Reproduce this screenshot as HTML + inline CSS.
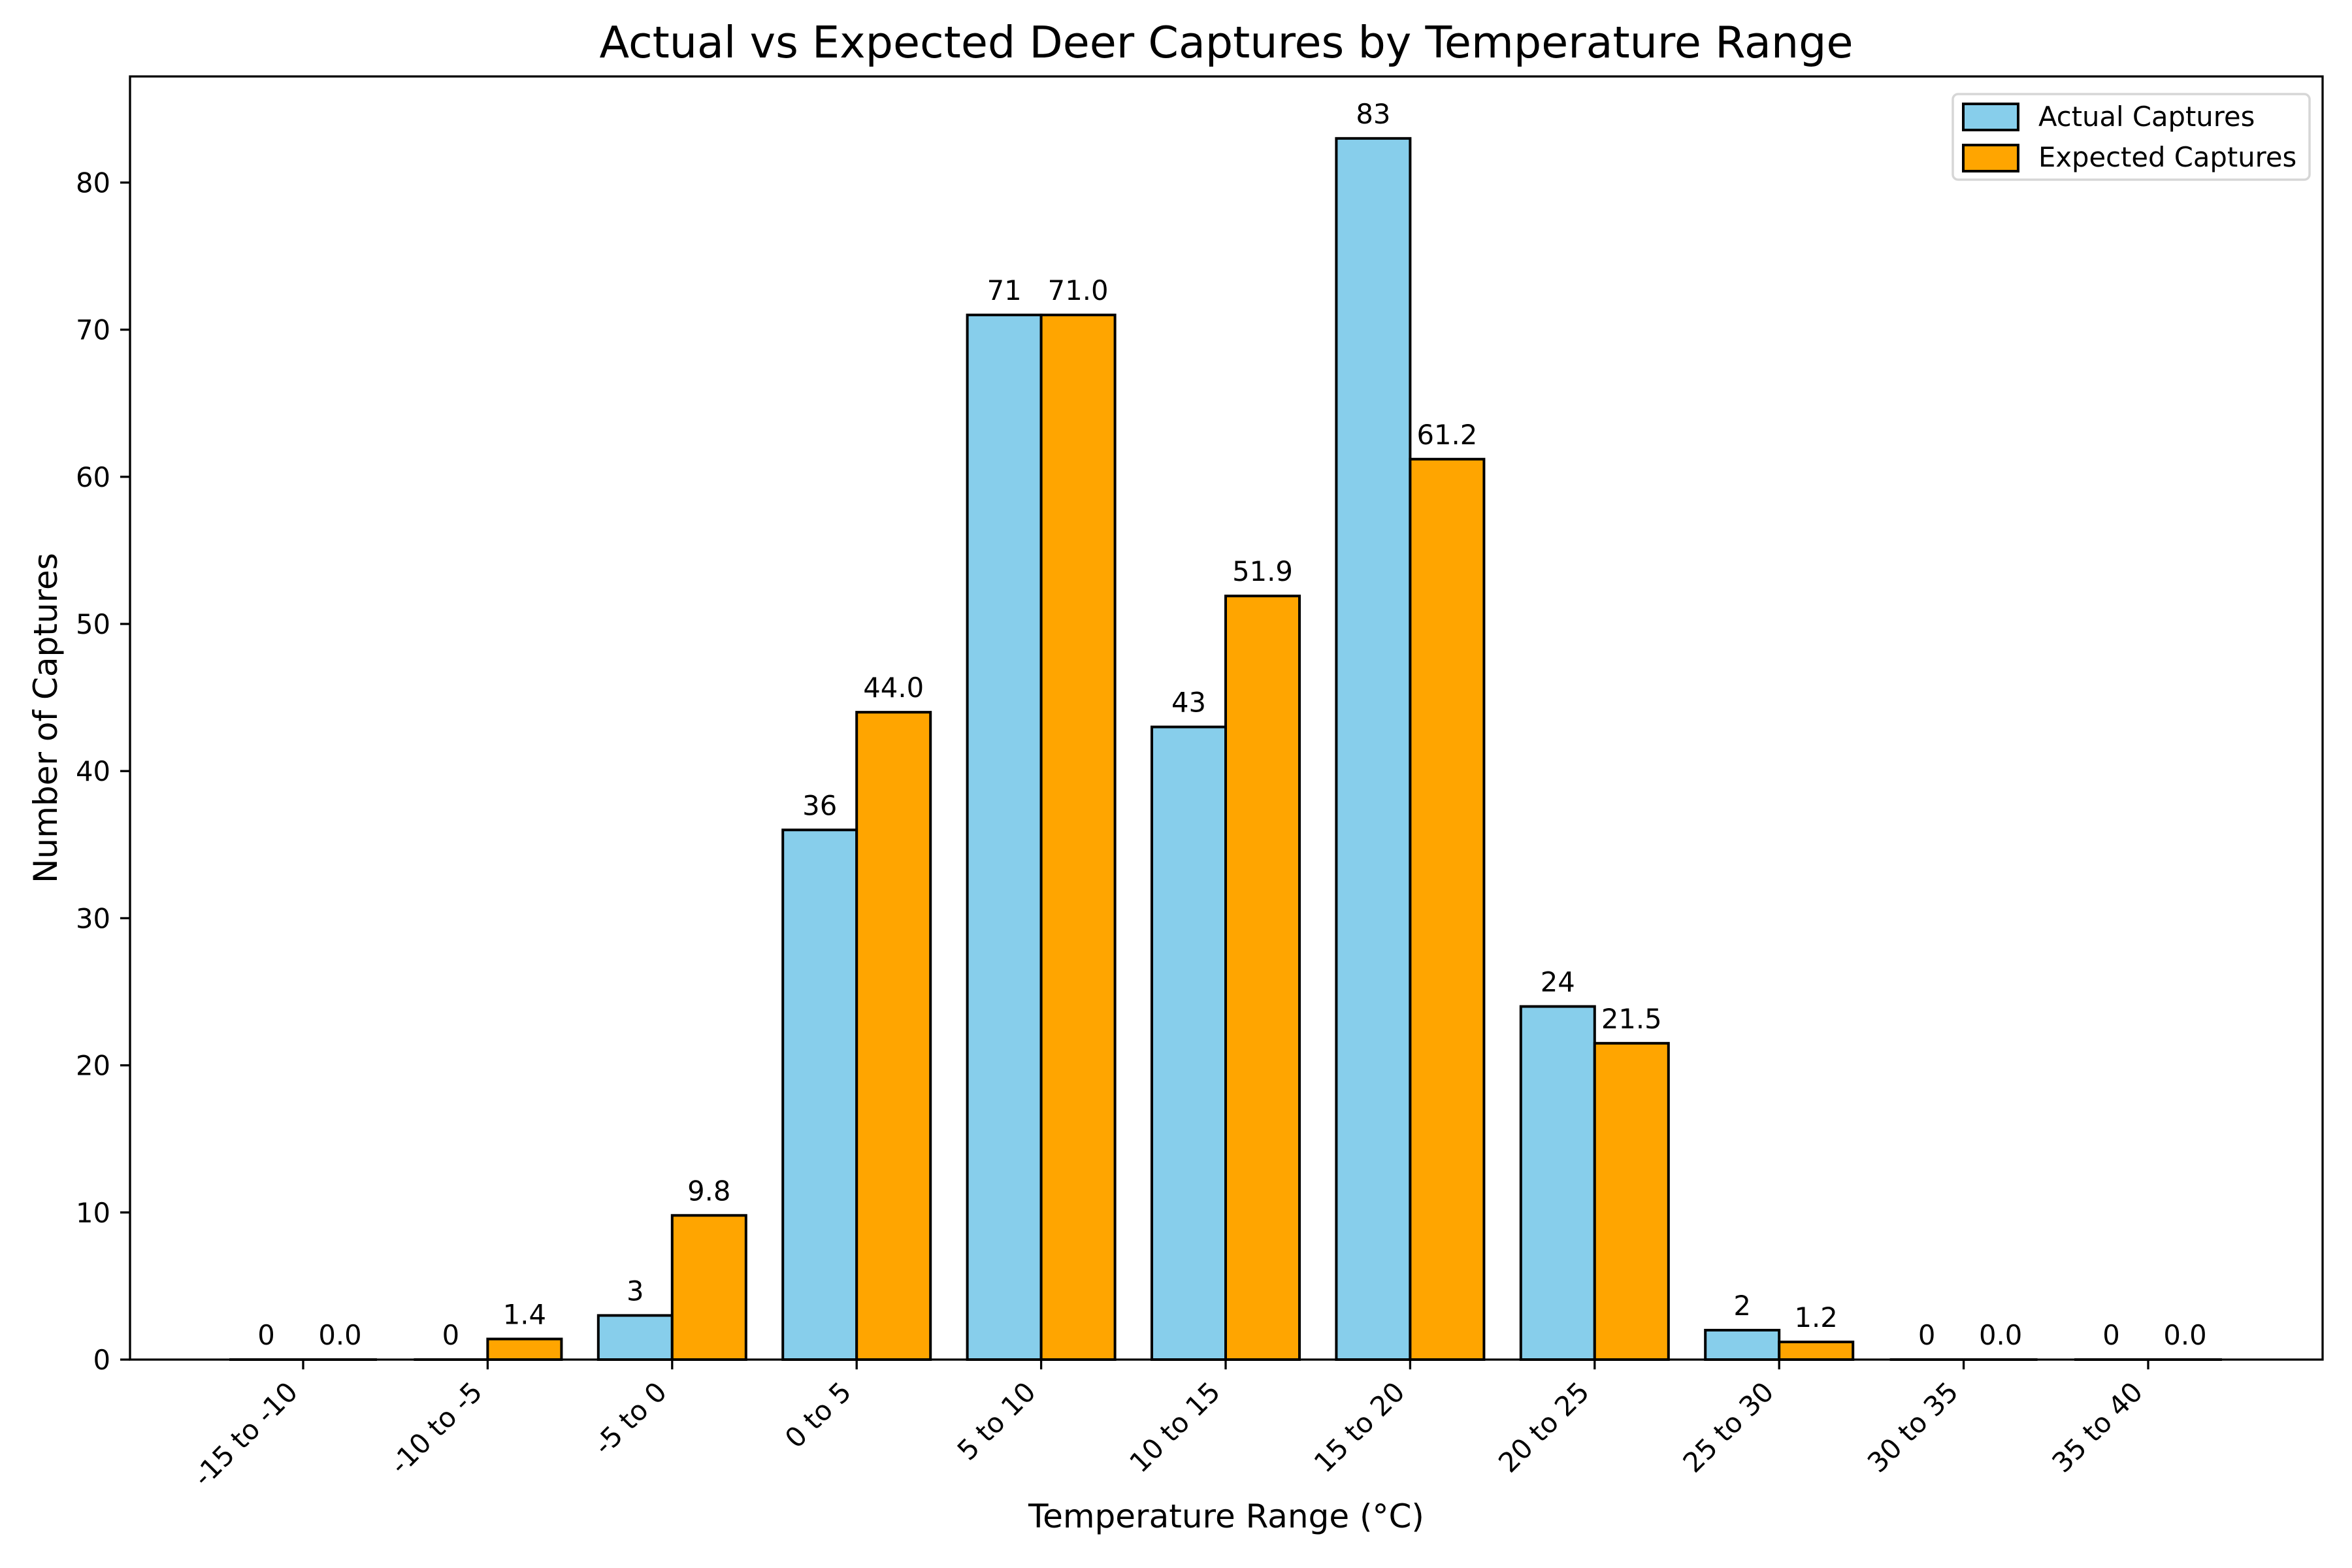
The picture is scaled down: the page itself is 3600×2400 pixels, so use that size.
<!DOCTYPE html>
<html><head><meta charset="utf-8"><style>
html,body{margin:0;padding:0;background:#fff}
svg{display:block;font-family:"DejaVu Sans","Liberation Sans",sans-serif}
</style></head><body>
<svg id="chart" width="3600" height="2400" viewBox="0 0 3600 2400" xmlns="http://www.w3.org/2000/svg">
<rect width="3600" height="2400" fill="#fff"/>
<text x="1877" y="88" font-size="66.7" text-anchor="middle">Actual vs Expected Deer Captures by Temperature Range</text>
<g id="bars"></g>
<g id="axes"></g>
<text x="1877" y="2338" font-size="50" text-anchor="middle">Temperature Range (°C)</text>
<text transform="translate(87,1099) rotate(-90)" font-size="50" text-anchor="middle">Number of Captures</text>
<g>
<rect x="2989" y="144" width="546" height="131" rx="8" fill="#fff" stroke="#d6d6d6" stroke-width="3.5"/>
<rect x="3005" y="159" width="84" height="40" fill="#87CEEB" stroke="#000" stroke-width="4"/>
<text x="3120" y="193" font-size="41.7">Actual Captures</text>
<rect x="3005" y="222" width="84" height="40" fill="#FFA500" stroke="#000" stroke-width="4"/>
<text x="3120" y="255" font-size="41.7">Expected Captures</text>
</g>
</svg>
<script>
const categories = ["-15 to -10","-10 to -5","-5 to 0","0 to 5","5 to 10","10 to 15","15 to 20","20 to 25","25 to 30","30 to 35","35 to 40"];
const actualValues = [0,0,3,36,71,43,83,24,2,0,0];
const expectedValues = [0.0,1.4,9.8,44.0,71.0,51.9,61.2,21.5,1.2,0.0,0.0];
const actualLabels = ["0","0","3","36","71","43","83","24","2","0","0"];
const expectedLabels = ["0.0","1.4","9.8","44.0","71.0","51.9","61.2","21.5","1.2","0.0","0.0"];
const yTicks = [0,10,20,30,40,50,60,70,80];

const NS="http://www.w3.org/2000/svg";
const L=199,R=3555,T=117,B=2081;
const X0=464, XSTEP=282.4, BW=113;
function xScale(i){return X0+i*XSTEP;}
function yScale(v){return B-v*22.52;}
function mk(tag,attrs,parent){const e=document.createElementNS(NS,tag);for(const k in attrs)e.setAttribute(k,attrs[k]);parent.appendChild(e);return e;}
const bars=document.getElementById('bars'), axes=document.getElementById('axes');

categories.forEach((c,i)=>{
  const cx=xScale(i);
  [[actualValues[i],actualLabels[i],'#87CEEB',-1,'actual'],[expectedValues[i],expectedLabels[i],'#FFA500',0,'expected']].forEach(([v,lab,col,off,s])=>{
    const x=cx+off*BW, y=yScale(v);
    if(B-y>0.5){
      const r=mk('rect',{x:x,y:y,width:BW,height:B-y,fill:col,stroke:'#000','stroke-width':4},bars);
      
      
    } else {
      const r=mk('line',{x1:x,y1:B,x2:x+BW,y2:B,stroke:'#000','stroke-width':4},bars);
      
      
    }
    const t=mk('text',{x:x+BW/2,y:y-23,'font-size':41.7,'text-anchor':'middle'},bars);
    t.textContent=lab;
    
    
  });
  mk('line',{x1:cx,y1:B,x2:cx,y2:B+15,stroke:'#000','stroke-width':3.3},axes);
  const tl=mk('text',{transform:`translate(${cx-28},${B+30}) rotate(-45)`,'font-size':41.7,'text-anchor':'end','dominant-baseline':'hanging'},axes);
  tl.textContent=c;
  
  
});
yTicks.forEach(v=>{
  const y=yScale(v);
  mk('line',{x1:L-15,y1:y,x2:L,y2:y,stroke:'#000','stroke-width':3.3},axes);
  const t=mk('text',{x:L-30,y:y+15,'font-size':41.7,'text-anchor':'end'},axes);
  t.textContent=v;
  
  
});
const fr=mk('rect',{x:L,y:T,width:R-L,height:B-T,fill:'none',stroke:'#000','stroke-width':3.3},axes);


</script>
</body></html>
